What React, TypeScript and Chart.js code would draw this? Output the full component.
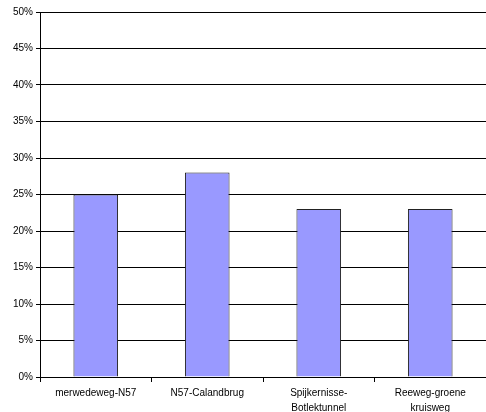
import React, { useEffect, useRef } from "react";
import { Chart, registerables } from "chart.js";

Chart.register(...registerables);

const categories: (string | string[])[] = [
  "merwedeweg-N57",
  "N57-Calandbrug",
  ["Spijkernisse-", "Botlektunnel"],
  ["Reeweg-groene", "kruisweg"],
];
const values: number[] = [25, 28, 23, 23];
const yTicks: number[] = [0, 5, 10, 15, 20, 25, 30, 35, 40, 45, 50];

export default function App() {
  const ref = useRef<HTMLCanvasElement | null>(null);
  useEffect(() => {
    if (!ref.current) return;
    const font = { family: "'Liberation Sans', Arial, sans-serif", size: 10 };
    const chart = new Chart(ref.current, {
      type: "bar",
      data: {
        labels: categories,
        datasets: [
          {
            data: values,
            backgroundColor: "#9999FF",
            borderColor: "#222222",
            borderWidth: 1,
            categoryPercentage: 1,
            barPercentage: 0.4,
          },
        ],
      },
      options: {
        responsive: false,
        animation: false,
        devicePixelRatio: 1,
        layout: { padding: { top: 12, right: 0, bottom: 0, left: 0 } },
        plugins: { legend: { display: false }, tooltip: { enabled: false } },
        scales: {
          x: {
            offset: true,
            grid: {
              offset: true,
              drawOnChartArea: false,
              drawTicks: true,
              tickLength: 5,
              color: "#000000",
            },
            border: { color: "#000000", width: 1 },
            ticks: {
              color: "#000000",
              font: { ...font, lineHeight: 1.45 },
              padding: 4,
              maxRotation: 0,
              autoSkip: false,
            },
            afterFit: (s: any) => {
              s.height = 35;
            },
          },
          y: {
            min: 0,
            max: 50,
            afterBuildTicks: (s: any) => {
              s.ticks = yTicks.map((v) => ({ value: v }));
            },
            grid: { color: "#000000", tickLength: 4, drawTicks: true },
            border: { color: "#000000", width: 1 },
            ticks: {
              color: "#000000",
              font,
              padding: 3,
              callback: (v: any) => v + "%",
            },
            afterFit: (s: any) => {
              s.width = 40;
            },
          },
        },
      },
    });
    return () => chart.destroy();
  }, []);
  return (
    <div style={{ position: "fixed", left: 0, top: 0, width: 486, height: 412, background: "#fff" }}>
      <canvas ref={ref} width={486} height={412} style={{ display: "block" }} />
    </div>
  );
}
